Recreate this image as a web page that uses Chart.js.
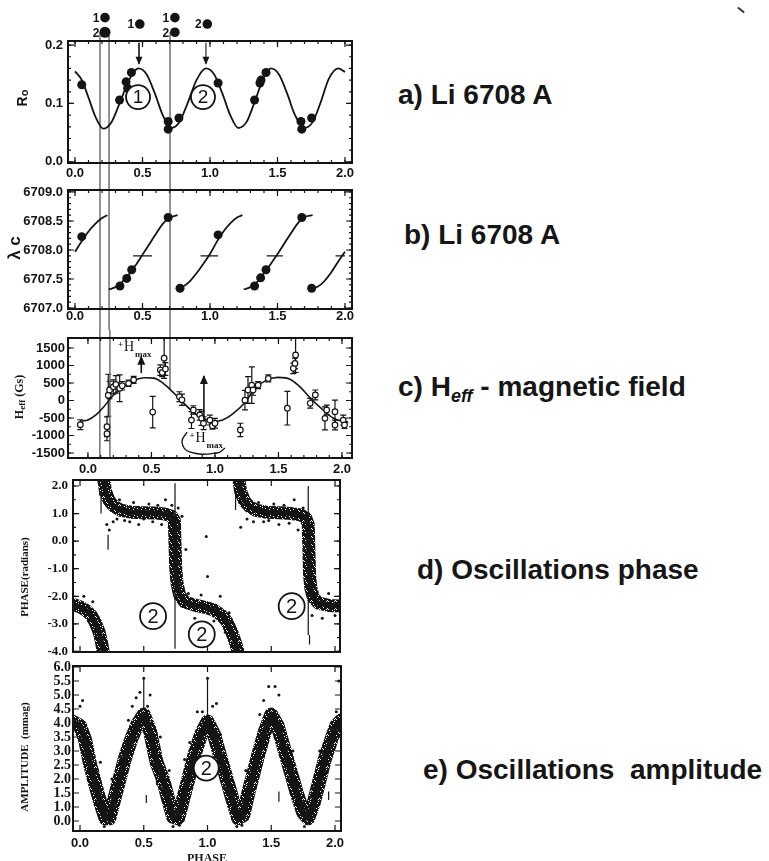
<!DOCTYPE html>
<html>
<head>
<meta charset="utf-8">
<script src="https://cdn.jsdelivr.net/npm/chart.js@4.4.1/dist/chart.umd.min.js"></script>
<style>
  body { margin: 0; background: #fff; width: 769px; height: 861px; overflow: hidden; position: relative;
         font-family: "Liberation Sans", Arial, sans-serif; }
  canvas { position: absolute; left: 0; }
  .lbl { position: absolute; font-weight: bold; font-size: 28px; line-height: 28px; color: #161616; white-space: pre; }
  .lbl sub { font-size: 18px; font-style: italic; vertical-align: -6px; line-height: 0; }
  .mark { position: absolute; left: 737px; top: 9px; width: 8px; height: 2px; background: #333; transform: rotate(38deg); }
</style>
</head>
<body>
<canvas id="chartA" width="372" height="185" style="top:0"></canvas>
<canvas id="chartB" width="372" height="145" style="top:185px"></canvas>
<canvas id="chartC" width="372" height="145" style="top:330px"></canvas>
<canvas id="chartD" width="372" height="190" style="top:475px"></canvas>
<canvas id="chartE" width="372" height="204" style="top:657px"></canvas>

<div class="lbl" style="left:398px;top:81px">a) Li 6708 A</div>
<div class="lbl" style="left:404px;top:221px">b) Li 6708 A</div>
<div class="lbl" style="left:398px;top:373px">c) H<sub>eff</sub> - magnetic field</div>
<div class="lbl" style="left:417px;top:556px">d) Oscillations phase</div>
<div class="lbl" style="left:423px;top:756px">e) Oscillations  amplitude</div>
<div class="mark"></div>

<script>
// ---- shared ticks ----
const phaseTicks = [0, 0.5, 1, 1.5, 2];

// ---- a) Li 6708 A : R0 ----
const roTicks = [0, 0.1, 0.2];
const roPointX = [0.05, 0.33, 0.378, 0.39, 0.418, 0.69, 0.69, 0.77, 1.06, 1.33, 1.37, 1.378, 1.415, 1.674, 1.68, 1.753];
const roPointY = [0.132, 0.106, 0.137, 0.126, 0.153, 0.069, 0.056, 0.075, 0.135, 0.106, 0.135, 0.140, 0.153, 0.069, 0.056, 0.075];
const roCurveX = [0.00, 0.05, 0.10, 0.15, 0.21, 0.27, 0.33, 0.40, 0.47, 0.53, 0.59, 0.65, 0.71, 0.77, 0.83, 0.90, 0.97,
                  1.03, 1.09, 1.15, 1.21, 1.27, 1.33, 1.39, 1.45, 1.51, 1.57, 1.63, 1.70, 1.76, 1.82, 1.88, 1.95, 2.00];
const roCurveY = [0.155, 0.140, 0.110, 0.078, 0.057, 0.068, 0.100, 0.140, 0.160, 0.150, 0.118, 0.080, 0.058, 0.067, 0.098, 0.140, 0.160,
                  0.150, 0.118, 0.080, 0.058, 0.068, 0.102, 0.140, 0.160, 0.150, 0.118, 0.080, 0.058, 0.068, 0.102, 0.142, 0.160, 0.154];
const markX = [0.222, 0.222, 0.48, 0.74, 0.74, 0.98];
const markY = [0.247, 0.222, 0.236, 0.247, 0.222, 0.236];
const markTag = ['1', '2', '1', '1', '2', '2'];
const roArrowX = [0.474, 0.97];
const guideX = [0.185, 0.252, 0.704];

// ---- b) Li 6708 A : lambda c ----
const lamTicks = [6707, 6707.5, 6708, 6708.5, 6709];
const lamPointX = [0.05, 0.333, 0.383, 0.42, 0.69, 0.778, 1.06, 1.33, 1.375, 1.415, 1.68, 1.753];
const lamPointY = [6708.23, 6707.38, 6707.51, 6707.66, 6708.56, 6707.34, 6708.26, 6707.38, 6707.52, 6707.66, 6708.56, 6707.34];
const lamCurveX = [0.00, 0.05, 0.10, 0.15, 0.20, 0.24, 0.24,
                   0.25, 0.30, 0.35, 0.40, 0.45, 0.50, 0.55, 0.60, 0.65, 0.70, 0.76, 0.76,
                   0.75, 0.80, 0.85, 0.90, 0.95, 1.00, 1.05, 1.10, 1.15, 1.20, 1.24, 1.24,
                   1.25, 1.30, 1.35, 1.40, 1.45, 1.50, 1.55, 1.60, 1.65, 1.70, 1.76, 1.76,
                   1.75, 1.80, 1.85, 1.90, 1.95, 2.00];
const lamCurveY = [6707.97, 6708.15, 6708.32, 6708.45, 6708.55, 6708.60, null,
                   6707.32, 6707.36, 6707.45, 6707.58, 6707.74, 6707.92, 6708.10, 6708.28, 6708.45, 6708.56, 6708.60, null,
                   6707.34, 6707.37, 6707.46, 6707.60, 6707.76, 6707.93, 6708.14, 6708.32, 6708.46, 6708.56, 6708.60, null,
                   6707.32, 6707.36, 6707.45, 6707.60, 6707.76, 6707.93, 6708.11, 6708.29, 6708.46, 6708.57, 6708.60, null,
                   6707.33, 6707.37, 6707.47, 6707.62, 6707.80, 6707.97];
const lamDashFrom = [0.43, 0.93, 1.42, 1.93];
const lamDashTo = [0.57, 1.06, 1.54, 2.00];
const lamDashY = 6707.9;

// ---- c) Heff ----
const hTicks = [-1500, -1000, -500, 0, 500, 1000, 1500];
const hPointX = [-0.06, 0.15, 0.15, 0.16, 0.17, 0.20, 0.22, 0.25, 0.27, 0.32, 0.36, 0.51, 0.57, 0.585, 0.60, 0.61, 0.72, 0.74,
                 0.815, 0.83, 0.88, 0.895, 0.91, 0.96, 0.98, 1.00, 1.20, 1.236, 1.26, 1.29, 1.30, 1.34, 1.42, 1.57, 1.617, 1.63,
                 1.635, 1.75, 1.79, 1.866, 1.88, 1.945, 1.945, 2.01, 2.02];
const hPointY = [-690, -750, -950, 150, 300, 390, 460, 350, 420, 490, 590, -330, 870, 800, 1210, 900, 110, 20,
                 -560, -270, -410, -510, -650, -560, -720, -650, -840, 10, 300, 440, 300, 440, 630, -220, 920, 1060,
                 1300, -80, 160, -510, -270, -320, -700, -560, -700];
const hErr = [140, 280, 200, 600, 250, 200, 250, 380, 120, 90, 100, 450, 150, 120, 580, 180, 140, 160,
              240, 120, 150, 200, 180, 140, 100, 140, 190, 280, 380, 520, 150, 100, 100, 480, 150, 150,
              500, 140, 140, 330, 140, 330, 140, 140, 100];
const hCurveX = [-0.06, 0.0, 0.06, 0.12, 0.2, 0.28, 0.36, 0.45, 0.52, 0.6, 0.68, 0.78, 0.86, 0.94, 1.0, 1.06, 1.14,
                 1.24, 1.31, 1.41, 1.5, 1.59, 1.67, 1.75, 1.85, 1.93, 2.01, 2.05];
const hCurveY = [-590, -560, -420, -200, 150, 400, 570, 650, 640, 470, 200, -170, -420, -560, -600, -560, -380,
                 -40, 330, 590, 660, 610, 390, 70, -270, -500, -600, -620];
const hArrowX = [0.42, 0.913];
const hArrowLo = [780, -600];
const hArrowHi = [1250, 700];
const hGuideX = [0.094, 0.173, 0.646];
const hGuideLo = [-1643, -1643, 300];
const hBracketX = [0.78, 0.74, 0.80, 1.016, 1.08];
const hBracketY = [-900, -1186, -1471, -1500, -1357];

// ---- d) oscillations phase ----
const phTicks = [-4, -3, -2, -1, 0, 1, 2];
const phBandX = [-0.06, 0.0, 0.05, 0.09, 0.12, 0.15, 0.17, 0.185, 0.185,
                 0.185, 0.2, 0.23, 0.27, 0.32, 0.4, 0.5, 0.6, 0.67, 0.72, 0.74, 0.75, 0.76, 0.78, 0.82, 0.9, 0.98,
                 1.05, 1.1, 1.15, 1.19, 1.22, 1.245, 1.245,
                 1.245, 1.26, 1.29, 1.33, 1.38, 1.46, 1.56, 1.66, 1.73, 1.77, 1.79, 1.8, 1.81, 1.83, 1.87, 1.95, 2.05];
const phBandY = [-2.28, -2.38, -2.52, -2.7, -2.95, -3.3, -3.7, -4.1, null,
                 2.25, 1.8, 1.45, 1.25, 1.12, 1.05, 1.03, 1.02, 0.98, 0.9, 0.75, -0.9, -1.5, -1.95, -2.2, -2.32, -2.4,
                 -2.5, -2.65, -2.9, -3.3, -3.7, -4.1, null,
                 2.25, 1.8, 1.45, 1.25, 1.12, 1.05, 1.03, 1.0, 0.95, 0.85, 0.6, -1.2, -1.7, -2.05, -2.25, -2.33, -2.35];
const phNoiseX = [0.16, 0.19, 0.21, 0.23, 0.26, 0.29, 0.31, 0.35, 0.39, 0.42, 0.46, 0.50, 0.54, 0.57, 0.61, 0.64, 0.67, 0.70,
                  0.72, 0.77, 0.80, 0.83, 0.99, 1.00, 1.23, 1.26, 1.28, 1.31, 1.36, 1.40, 1.44, 1.48, 1.52, 1.56, 1.60,
                  1.64, 1.68, 1.71, 1.75, 1.82, 1.86, 1.90, 1.95, 2.00, 0.03, 0.07, 0.10, 0.12, 0.85, 0.90, 0.95, 1.05,
                  1.10, 1.14, 1.17, 0.78];
const phNoiseY = [1.7, 1.9, 0.6, 0.4, 0.7, 0.8, 1.5, 0.75, 0.7, 1.4, 0.6, 0.8, 1.35, 0.7, 1.3, 0.6, 1.5, 0.5,
                  1.3, 1.2, 0.9, -0.3, 0.17, -1.28, 1.6, 0.5, 1.8, 0.8, 0.7, 1.4, 0.7, 0.75, 1.35, 0.6, 1.3,
                  0.65, 1.5, 0.4, 1.2, -2.7, -1.9, -2.8, -1.9, -2.7, -2.0, -2.9, -2.2, -3.3, -1.9, -2.8, -1.95, -2.9,
                  -2.0, -3.3, -2.6, 0.5];
const phSpikeX = [0.745, 1.79, 0.22, 1.22, 0.165, 1.8];
const phSpikeLo = [-3.9, -3.4, -0.31, 1.13, 1.0, -3.75];
const phSpikeHi = [2.1, 2.0, 0.23, 1.86, 1.8, -3.4];
const phCircleX = [0.573, 0.955, 1.66];
const phCircleY = [-2.72, -3.38, -2.36];

// ---- e) oscillations amplitude ----
const ampTickPos = [0.5, 1, 1.5, 2, 2.5, 3, 3.5, 4, 4.5, 5, 5.5, 6];
const ampTickLabels = ['0.0', '1.0', '1.5', '2.0', '2.5', '3.0', '3.5', '4.0', '4.5', '5.0', '5.5', '6.0'];
const ampBandX = [-0.06, 0.0, 0.04, 0.08, 0.12, 0.16, 0.2, 0.23, 0.27, 0.31, 0.35, 0.4, 0.45, 0.5, 0.55, 0.6, 0.65, 0.69,
                  0.73, 0.77, 0.81, 0.85, 0.9, 0.95, 1.0, 1.05, 1.1, 1.15, 1.2, 1.24, 1.28, 1.32, 1.36, 1.4, 1.45,
                  1.5, 1.55, 1.6, 1.65, 1.7, 1.75, 1.79, 1.83, 1.87, 1.92, 1.97, 2.01, 2.05];
const ampBandY = [4.05, 3.9, 3.4, 2.5, 1.8, 1.15, 0.6, 0.6, 1.3, 2.0, 2.7, 3.4, 3.95, 4.3, 3.7, 2.6, 2.0, 1.3,
                  0.65, 0.6, 1.3, 2.0, 2.9, 3.6, 4.05, 3.6, 2.8, 2.0, 1.2, 0.6, 0.7, 1.5, 2.2, 2.9, 3.7,
                  4.3, 3.9, 3.1, 2.3, 1.5, 0.8, 0.6, 1.1, 1.8, 2.7, 3.4, 3.9, 4.1];
const ampNoiseX = [0.00, 0.02, 0.03, 0.06, 0.08, 0.11, 0.13, 0.16, 0.25, 0.28, 0.32, 0.36, 0.38, 0.41, 0.44, 0.47, 0.53, 0.55,
                   0.58, 0.60, 0.63, 0.66, 0.70, 0.82, 0.86, 0.88, 0.92, 0.96, 1.04, 1.07, 1.10, 1.13, 1.16, 1.30, 1.33,
                   1.37, 1.41, 1.44, 1.48, 1.53, 1.56, 1.59, 1.62, 1.67, 1.84, 1.88, 1.92, 1.96, 2.01, 2.03, 0.19, 0.24,
                   0.73, 0.78, 1.23, 1.27, 1.76, 1.80, 0.5, 1.0];
const ampNoiseY = [4.6, 4.8, 3.0, 2.8, 3.3, 2.3, 1.6, 2.6, 2.0, 1.4, 2.7, 3.3, 4.1, 4.6, 4.9, 5.1, 4.6, 5.0,
                   3.4, 2.4, 3.5, 1.9, 2.3, 2.7, 3.3, 2.2, 4.4, 4.4, 4.6, 4.7, 3.6, 2.6, 2.3, 2.3, 1.6,
                   2.4, 4.3, 4.8, 5.3, 5.3, 5.0, 3.5, 2.5, 3.0, 1.7, 3.0, 2.3, 3.2, 4.4, 5.5, 0.3, 0.4,
                   0.3, 0.35, 0.3, 0.35, 0.3, 0.4, 5.6, 5.6];
const ampSpikeX = [0.5, 1.0, 0.14, 0.52, 0.6, 1.56, 1.95];
const ampSpikeLo = [4.5, 4.1, 2.2, 1.14, 1.79, 1.19, 1.25];
const ampSpikeHi = [5.6, 5.6, 2.4, 1.43, 2.08, 1.55, 1.55];

// ---------------------------------------------------------------
const INK = '#141414';
const SANS = '"Liberation Sans", Arial, sans-serif';
const SERIF = '"Liberation Serif", "Times New Roman", serif';

const xy = (xs, ys) => xs.map((x, i) => ({ x: x, y: ys[i] }));
const verticals = (xs, lo, hi) => xs.flatMap((x, i) => [{ x: x, y: lo[i] }, { x: x, y: hi[i] }, { x: x, y: null }]);
const line = (data, w, extra) => Object.assign({ data: data, showLine: true, borderColor: INK, borderWidth: w,
  pointRadius: 0, tension: 0, spanGaps: false, fill: false }, extra || {});
const dots = (data, r, extra) => Object.assign({ data: data, showLine: false, pointRadius: r,
  pointBackgroundColor: INK, pointBorderColor: INK, pointBorderWidth: 0 }, extra || {});

function speckle() {
  const c = document.createElement('canvas');
  c.width = 8; c.height = 8;
  const g = c.getContext('2d');
  g.fillStyle = INK;
  g.fillRect(0, 0, 8, 8);
  [[1, 1], [5, 2], [3, 4], [7, 5], [0, 6], [4, 7], [6, 0], [2, 3], [6, 6]].forEach(p => g.clearRect(p[0], p[1], 1, 1));
  return g.createPattern(c, 'repeat');
}

function frame(xMinor, yMinor) {
  return {
    id: 'frame',
    afterDatasetsDraw(chart) {
      const { ctx, chartArea: a, scales: { x, y } } = chart;
      ctx.save();
      ctx.strokeStyle = INK;
      ctx.lineWidth = 1.2;
      const mark = (axis, v, len) => {
        const p = axis.getPixelForValue(v);
        ctx.beginPath();
        if (axis === x) {
          ctx.moveTo(p, a.bottom); ctx.lineTo(p, a.bottom - len);
          ctx.moveTo(p, a.top); ctx.lineTo(p, a.top + len);
        } else {
          ctx.moveTo(a.left, p); ctx.lineTo(a.left + len, p);
          ctx.moveTo(a.right, p); ctx.lineTo(a.right - len, p);
        }
        ctx.stroke();
      };
      x.ticks.forEach(t => mark(x, t.value, 6));
      y.ticks.forEach(t => mark(y, t.value, 6));
      const minor = (axis, step) => {
        const first = axis.ticks[0].value, last = axis.ticks[axis.ticks.length - 1].value;
        for (let v = first; v <= last + 1e-9; v += step) mark(axis, v, 3);
      };
      if (xMinor) minor(x, xMinor);
      if (yMinor) minor(y, yMinor);
      ctx.lineWidth = 2;
      ctx.strokeRect(a.left, a.top, a.right - a.left, a.bottom - a.top);
      ctx.restore();
    }
  };
}

function vText(ctx, cx, cy, parts) {
  ctx.save();
  ctx.translate(cx, cy);
  ctx.rotate(-Math.PI / 2);
  ctx.fillStyle = INK;
  ctx.textBaseline = 'middle';
  ctx.textAlign = 'left';
  let total = 0;
  parts.forEach(p => { ctx.font = p.font; p.w = ctx.measureText(p.t).width; total += p.w; });
  let pos = -total / 2;
  parts.forEach(p => { ctx.font = p.font; ctx.fillText(p.t, pos, p.dy || 0); pos += p.w; });
  ctx.restore();
}

function circled(ctx, px, py, r, t, font) {
  ctx.save();
  ctx.beginPath();
  ctx.arc(px, py, r, 0, Math.PI * 2);
  ctx.fillStyle = '#fff';
  ctx.fill();
  ctx.lineWidth = 1.8;
  ctx.strokeStyle = INK;
  ctx.stroke();
  ctx.fillStyle = INK;
  ctx.font = font;
  ctx.textAlign = 'center';
  ctx.textBaseline = 'middle';
  ctx.fillText(t, px, py + 1);
  ctx.restore();
}

function arrow(ctx, x0, y0, x1, y1, w, head) {
  ctx.save();
  ctx.strokeStyle = INK; ctx.fillStyle = INK; ctx.lineWidth = w;
  ctx.beginPath(); ctx.moveTo(x0, y0); ctx.lineTo(x1, y1); ctx.stroke();
  const dir = Math.sign(y1 - y0);
  ctx.beginPath();
  ctx.moveTo(x1, y1 + dir * 1);
  ctx.lineTo(x1 - head / 2, y1 - dir * head);
  ctx.lineTo(x1 + head / 2, y1 - dir * head);
  ctx.closePath(); ctx.fill();
  ctx.restore();
}

function hmax(ctx, px, py) {
  ctx.save();
  ctx.fillStyle = INK;
  ctx.textBaseline = 'alphabetic';
  ctx.textAlign = 'left';
  ctx.font = 'bold 9px ' + SERIF;
  ctx.fillText('+', px, py - 4);
  ctx.font = '14px ' + SERIF;
  ctx.fillText('H', px + 6, py);
  ctx.font = 'bold 9px ' + SERIF;
  ctx.fillText('max', px + 17, py + 6);
  ctx.restore();
}

function makeChart(id, o) {
  return new Chart(document.getElementById(id), {
    type: 'scatter',
    data: { datasets: o.datasets },
    options: {
      responsive: false,
      animation: false,
      events: [],
      layout: { autoPadding: false, padding: { top: o.top, right: o.right, left: 0, bottom: 0 } },
      plugins: { legend: { display: false }, tooltip: { enabled: false } },
      scales: {
        x: {
          type: 'linear', min: o.xMin, max: o.xMax,
          grid: { display: false, drawTicks: false }, border: { display: false },
          afterBuildTicks: s => { s.ticks = o.xTicks.map(v => ({ value: v })); },
          afterFit: s => { s.height = o.xH; s.paddingLeft = 0; s.paddingRight = 0; },
          ticks: { display: o.xShow !== false, padding: o.xPad, color: INK, autoSkip: false, maxRotation: 0,
                   font: { family: SANS, size: 13, weight: 'bold' }, callback: v => v.toFixed(1) }
        },
        y: {
          type: 'linear', min: o.yMin, max: o.yMax,
          grid: { display: false, drawTicks: false }, border: { display: false },
          afterBuildTicks: s => { s.ticks = o.yTicks.map(v => ({ value: v })); },
          afterFit: s => { s.width = o.yW; s.paddingTop = 0; s.paddingBottom = 0; },
          ticks: { padding: o.yPad, color: INK, autoSkip: false, font: o.yFont, callback: o.yFmt }
        }
      }
    },
    plugins: [
      { id: 'under', beforeDatasetsDraw: o.under || (() => {}) },
      frame(o.xMinor, o.yMinor),
      { id: 'notes', afterDatasetsDraw: o.notes || (() => {}) }
    ]
  });
}

const sansBold = { family: SANS, size: 13, weight: 'bold' };
const serifBold = { family: SERIF, size: 13, weight: 'bold' };

// ---- panel a ----
makeChart('chartA', {
  top: 41, right: 20, yW: 68, xH: 22, xPad: 3, yPad: 5,
  xMin: -0.052, xMax: 2.052, yMin: -0.002, yMax: 0.207,
  xTicks: phaseTicks, yTicks: roTicks, xMinor: 0.1, yMinor: 0.02,
  yFont: sansBold, yFmt: v => v.toFixed(1),
  datasets: [
    dots(xy(roPointX, roPointY), 4.5),
    line(xy(roCurveX, roCurveY), 1.8, { cubicInterpolationMode: 'monotone' }),
    line(verticals(guideX, [-0.045, -0.045, -0.045], [0.222, 0.222, 0.222]), 1.4, { borderColor: '#666', clip: false })
  ],
  notes(chart) {
    const { ctx, scales: { x, y } } = chart;
    ctx.save();
    ctx.fillStyle = INK;
    ctx.font = 'bold 12px ' + SANS;
    ctx.textAlign = 'center';
    ctx.textBaseline = 'middle';
    markX.forEach((v, i) => {
      const px = x.getPixelForValue(v), py = y.getPixelForValue(markY[i]);
      ctx.beginPath();
      ctx.arc(px, py, markTag[i] === '2' && i < 2 ? 5.5 : 4.8, 0, Math.PI * 2);
      ctx.fill();
      ctx.fillText(markTag[i], px - 9, py + 1);
    });
    ctx.restore();
    roArrowX.forEach((v, i) => {
      const px = x.getPixelForValue(v);
      arrow(ctx, px, y.getPixelForValue(0.204), px, y.getPixelForValue(0.168), i === 0 ? 1.6 : 1.1, 7);
    });
    circled(ctx, x.getPixelForValue(0.467), y.getPixelForValue(0.111), 12, '1', '19px ' + SANS);
    circled(ctx, x.getPixelForValue(0.948), y.getPixelForValue(0.111), 12, '2', '19px ' + SANS);
    vText(ctx, 23, 98, [{ t: 'R', font: 'bold 14px ' + SANS }, { t: 'o', font: 'bold 11px ' + SANS, dy: 2 }]);
  }
});

// ---- panel b ----
makeChart('chartB', {
  top: 5, right: 20, yW: 68, xH: 21, xPad: 0, yPad: 5,
  xMin: -0.052, xMax: 2.052, yMin: 6706.983, yMax: 6709.034,
  xTicks: phaseTicks, yTicks: lamTicks, xMinor: 0.1, yMinor: 0.1,
  yFont: sansBold, yFmt: v => v.toFixed(1),
  datasets: [
    dots(xy(lamPointX, lamPointY), 4.5),
    line(xy(lamCurveX, lamCurveY), 1.8, { tension: 0.3 }),
    line(lamDashFrom.flatMap((v, i) => [{ x: v, y: lamDashY }, { x: lamDashTo[i], y: lamDashY }, { x: lamDashTo[i], y: null }]), 1.3),
    line(verticals(guideX, [6706.5, 6706.5, 6706.5], [6709.2, 6709.2, 6709.2]), 1.4, { borderColor: '#666', clip: false })
  ],
  notes(chart) {
    vText(chart.ctx, 15, 63, [{ t: 'λ c', font: 'bold 17px ' + SANS }]);
  }
});

// ---- panel c ----
makeChart('chartC', {
  top: 8, right: 20, yW: 68, xH: 17, xPad: 4, yPad: 3,
  xMin: -0.157, xMax: 2.079, yMin: -1643, yMax: 1786,
  xTicks: phaseTicks, yTicks: hTicks, xMinor: 0.1, yMinor: 250,
  yFont: sansBold, yFmt: v => String(v),
  datasets: [
    dots(xy(hPointX, hPointY), 2.8, { pointBackgroundColor: '#fff', pointBorderWidth: 1.2 }),
    line(xy(hCurveX, hCurveY), 1.6, { cubicInterpolationMode: 'monotone' }),
    line(xy(hBracketX, hBracketY), 1.3, { tension: 0.45 }),
    line(verticals(hGuideX, hGuideLo, [2100, 2100, 2100]), 1.4, { borderColor: '#666', clip: false })
  ],
  under(chart) {
    const { ctx, scales: { x, y } } = chart;
    ctx.save();
    ctx.strokeStyle = INK;
    ctx.lineWidth = 1.2;
    hPointX.forEach((v, i) => {
      const px = x.getPixelForValue(v);
      const lo = y.getPixelForValue(Math.max(hPointY[i] - hErr[i], -1643));
      const hi = y.getPixelForValue(Math.min(hPointY[i] + hErr[i], 1786));
      ctx.beginPath();
      ctx.moveTo(px, lo); ctx.lineTo(px, hi);
      ctx.moveTo(px - 3, lo); ctx.lineTo(px + 3, lo);
      ctx.moveTo(px - 3, hi); ctx.lineTo(px + 3, hi);
      ctx.stroke();
    });
    ctx.restore();
  },
  notes(chart) {
    const { ctx, scales: { x, y } } = chart;
    hArrowX.forEach((v, i) => {
      const px = x.getPixelForValue(v);
      arrow(ctx, px, y.getPixelForValue(hArrowLo[i]), px, y.getPixelForValue(hArrowHi[i]), 1.6, 8);
    });
    hmax(ctx, x.getPixelForValue(0.236), y.getPixelForValue(1420));
    hmax(ctx, x.getPixelForValue(0.80), y.getPixelForValue(-1180));
    vText(ctx, 20, 67, [
      { t: 'H', font: 'bold 12px ' + SERIF },
      { t: 'eff', font: 'bold 9px ' + SERIF, dy: 3 },
      { t: ' (Gs)', font: 'bold 12px ' + SERIF }
    ]);
  }
});

// ---- panel d ----
const bandInk = speckle();
makeChart('chartD', {
  top: 5, right: 32, yW: 73, xH: 13, xPad: 0, yPad: 5, xShow: false,
  xMin: -0.055, xMax: 2.039, yMin: -4.02, yMax: 2.217,
  xTicks: phaseTicks, yTicks: phTicks, xMinor: 0, yMinor: 0.5,
  yFont: serifBold, yFmt: v => v.toFixed(1),
  datasets: [
    dots(xy(phNoiseX, phNoiseY), 1.5),
    line(xy(phBandX, phBandY), 5, { borderJoinStyle: 'round', borderCapStyle: 'round' }),
    line(xy(phBandX, phBandY), 13, { borderColor: bandInk, borderJoinStyle: 'round', borderCapStyle: 'round' }),
    line(verticals(phSpikeX, phSpikeLo, phSpikeHi), 1.2)
  ],
  notes(chart) {
    const { ctx, scales: { x, y } } = chart;
    phCircleX.forEach((v, i) => circled(ctx, x.getPixelForValue(v), y.getPixelForValue(phCircleY[i]), 13, '2', '20px ' + SANS));
    vText(ctx, 25, 102, [{ t: 'PHASE(radians)', font: 'bold 11px ' + SERIF }]);
  }
});

// ---- panel e ----
makeChart('chartE', {
  top: 9, right: 31, yW: 73, xH: 30, xPad: 5, yPad: 2,
  xMin: -0.055, xMax: 2.047, yMin: 0.143, yMax: 6.036,
  xTicks: phaseTicks, yTicks: ampTickPos, xMinor: 0, yMinor: 0,
  yFont: { family: SERIF, size: 14, weight: 'bold' }, yFmt: (v, i) => ampTickLabels[i],
  datasets: [
    dots(xy(ampNoiseX, ampNoiseY), 1.5),
    line(xy(ampBandX, ampBandY), 6, { borderJoinStyle: 'round', borderCapStyle: 'round' }),
    line(xy(ampBandX, ampBandY), 14, { borderColor: bandInk, borderJoinStyle: 'round', borderCapStyle: 'round' }),
    line(verticals(ampSpikeX, ampSpikeLo, ampSpikeHi), 1.2)
  ],
  notes(chart) {
    const { ctx, scales: { x, y } } = chart;
    circled(ctx, x.getPixelForValue(0.99), y.getPixelForValue(2.39), 12.5, '2', '20px ' + SANS);
    vText(ctx, 25, 100, [{ t: 'AMPLITUDE  (mmag)', font: 'bold 11px ' + SERIF }]);
    ctx.save();
    ctx.fillStyle = INK;
    ctx.font = 'bold 12px ' + SERIF;
    ctx.textAlign = 'center';
    ctx.textBaseline = 'middle';
    ctx.fillText('PHASE', 207, 202);
    ctx.restore();
  }
});
</script>
</body>
</html>
